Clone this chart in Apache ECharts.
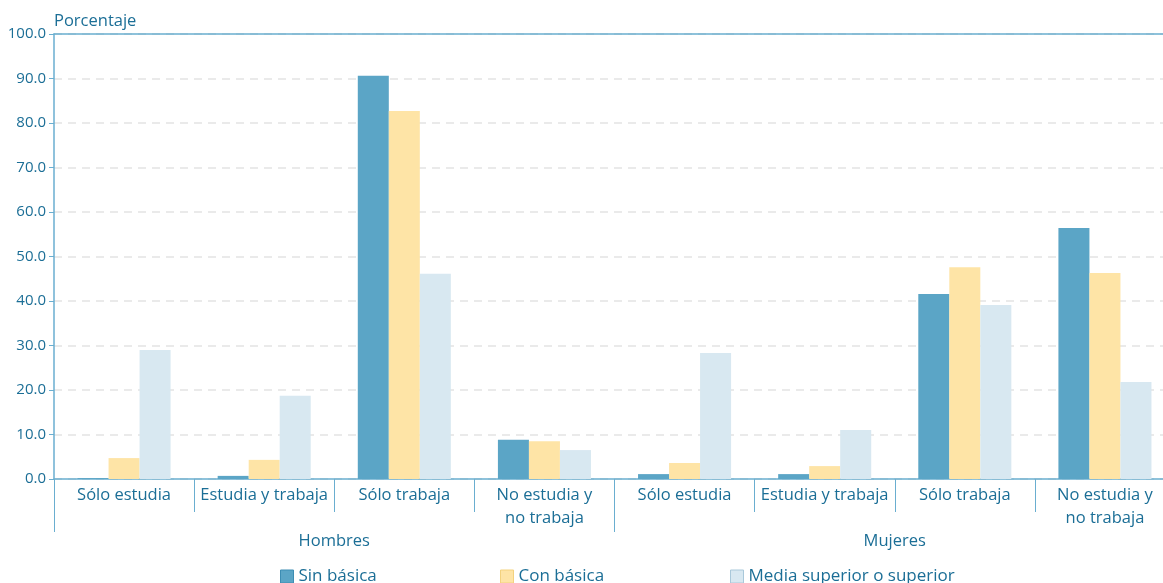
<!DOCTYPE html>
<html>
<head>
<meta charset="utf-8">
<script src="https://cdn.jsdelivr.net/npm/echarts@6/dist/echarts.min.js"></script>
<style>
html,body{margin:0;padding:0;background:#fff;overflow:hidden;width:1163px;height:583px;}
#chart{width:1175px;height:583px;}
</style>
</head>
<body>
<div id="chart"></div>
<script>
const categories = ['Sólo estudia','Estudia y trabaja','Sólo trabaja','No estudia y\nno trabaja','Sólo estudia','Estudia y trabaja','Sólo trabaja','No estudia y\nno trabaja'];
const groups = ['Hombres','Mujeres'];
const seriesNames = ['Sin básica','Con básica','Media superior o superior'];
const sinBasica = [0.2, 0.7, 90.6, 8.8, 1.1, 1.1, 41.6, 56.4];
const conBasica = [4.7, 4.3, 82.7, 8.5, 3.6, 2.9, 47.6, 46.3];
const mediaSuperior = [29.0, 18.7, 46.1, 6.5, 28.3, 11.0, 39.1, 21.8];
const yTicks = [0,10,20,30,40,50,60,70,80,90,100];

const FONT = 'Open Sans';
const TXT = '#1b6e96';
const AXIS = '#6aaed0';
const colors = ['#5ba5c6','#fee4a6','#d8e8f1'];
const borders = ['#3d8db3','#f3d27f','#a9c8da'];
const legendLefts = [275, 495, 725];

const chart = echarts.init(document.getElementById('chart'));
chart.setOption({
  animation:false,
  textStyle:{fontFamily:FONT},
  grid:{left:54, top:34, right:0, height:445},
  legend: seriesNames.map((n,i)=>({
    left:legendLefts[i], top:563, itemWidth:13, itemHeight:13, icon:'rect',
    textStyle:{color:TXT, fontSize:17, fontFamily:FONT},
    data:[{name:n, itemStyle:{color:colors[i], borderColor:borders[i], borderWidth:1}}]
  })),
  xAxis:[
    {type:'category', data:categories, position:'bottom',
     axisLine:{show:true, lineStyle:{color:AXIS, width:1.5}},
     axisTick:{show:true, interval:0, length:33, lineStyle:{color:AXIS, width:1}},
     axisLabel:{interval:0, color:TXT, fontSize:16.5, lineHeight:23, margin:5, fontFamily:FONT},
     splitLine:{show:false}},
    {type:'category', data:groups, position:'bottom',
     axisLine:{show:false},
     axisTick:{show:true, interval:0, length:53, lineStyle:{color:AXIS, width:1}},
     axisLabel:{interval:0, color:TXT, fontSize:16.5, margin:54, fontFamily:FONT},
     splitLine:{show:false}},
    {type:'category', data:categories, position:'top',
     axisLine:{show:true, lineStyle:{color:AXIS, width:1.5}},
     axisTick:{show:false}, axisLabel:{show:false}}
  ],
  yAxis:{
    type:'value', min:0, max:100, interval:10,
    name:'Porcentaje', nameLocation:'end', nameGap:4,
    nameTextStyle:{color:TXT, fontSize:16.5, align:'left', fontFamily:FONT},
    axisLine:{show:true, lineStyle:{color:AXIS, width:1.5}},
    axisTick:{show:true, length:5, lineStyle:{color:AXIS}},
    axisLabel:{color:TXT, fontSize:15, margin:8, fontFamily:FONT, formatter:v=>v.toFixed(1)},
    splitLine:{show:true, lineStyle:{color:'#e3e3e3', type:[8,6], width:1.5}}
  },
  series:[sinBasica, conBasica, mediaSuperior].map((d,i)=>({
    name:seriesNames[i], type:'bar', data:d, xAxisIndex:0,
    barGap:'0%', barCategoryGap:'33.6%',
    itemStyle:{color:colors[i]}
  }))
});
</script>
</body>
</html>
